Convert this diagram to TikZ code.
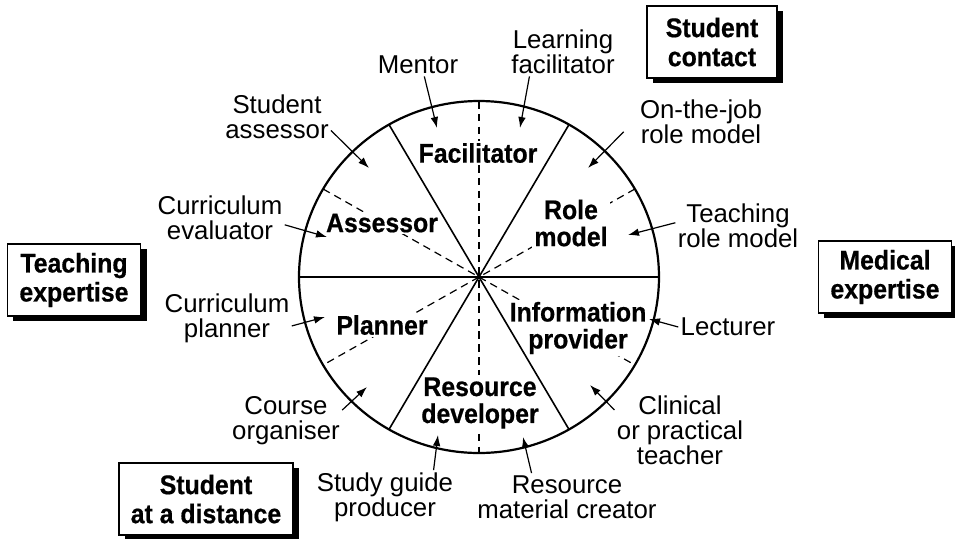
\documentclass[tikz,border=0pt]{standalone}
\usepackage{fontspec}
\setmainfont{Liberation Sans}
\newfontfamily\condfont[FakeStretch=0.92, FakeBold=0.6]{Liberation Sans Bold}
\usepackage{xcolor}
\colorlet{colorWheel}{black}
\colorlet{colorArrow}{black}
\usepackage{tikz}
\usetikzlibrary{arrows.meta, positioning, shadows}
\tikzset{role/.style={font=\fontsize{12.9}{12.5}\selectfont, align=center, inner sep=1pt},
sector/.style={font=\condfont\fontsize{13.5}{13.5}\selectfont, align=center, fill=white, inner sep=1pt},
corner/.style={draw, line width=0.8pt, fill=white, font=\condfont\fontsize{13.5}{14.5}\selectfont, align=center, inner xsep=6pt, minimum width=65pt, minimum height=36pt, drop shadow={shadow xshift=3pt, shadow yshift=-2.7pt, opacity=1, fill=black}},
spoke/.style={colorWheel, line width=0.8pt},
guide/.style={colorWheel, line width=0.6pt, dash pattern=on 3.8pt off 2.6pt},
pointer/.style={->, colorArrow, line width=0.6pt}}

\begin{document}
\begin{tikzpicture}[>={Latex[length=5.5pt,width=3.8pt]}, x=0.5pt, y=0.5pt]
\useasboundingbox (-479,-261) rectangle (476,277);
\coordinate (c) at (0,0);
\draw [guide] (90:180 and 176) -- (270:180 and 176);
\draw [guide] (30:180 and 176) -- (210:180 and 176);
\draw [guide] (150:180 and 176) -- (330:180 and 176);
\node [sector] (facil) at (-1,124) {Facilitator};
\node [sector] (roleModel) at (92,54) {Role\\model};
\node [sector] (assess) at (-97,54) {Assessor};
\node [sector] (plan) at (-97,-48) {Planner};
\node [sector] (info) at (99,-51) {Information\\provider};
\node [sector] (resDev) at (1,-126) {Resource\\developer};
\draw [colorWheel, line width=1.1pt] (c) ellipse [x radius=180, y radius=176];
\draw [spoke] (180:180 and 176) -- (0:180 and 176);
\draw [spoke] (60:180 and 176) -- (240:180 and 176);
\draw [spoke] (120:180 and 176) -- (300:180 and 176);
\node [role] (mentor) at (-61,212) {Mentor};
\node [role] (learnFac) at (84,225) {Learning\\facilitator};
\node [role] (stuAss) at (-202,160) {Student\\assessor};
\node [role] (jobModel) at (222,155) {On-the-job\\role model};
\node [role] (curEval) at (-259,59) {Curriculum\\evaluator};
\node [role] (teachModel) at (259,51) {Teaching\\role model};
\node [role] (curPlan) at (-252,-41) {Curriculum\\planner};
\node [role] (lecturer) at (249,-50) {Lecturer};
\node [role] (courseOrg) at (-193,-144) {Course\\organiser};
\node [role] (clinTeach) at (201,-153) {Clinical\\or practical\\teacher};
\node [role] (guideProd) at (-94,-220) {Study guide\\producer};
\node [role] (matCreator) at (88,-220) {Resource\\material creator};
\node [corner] (contact) at (233,235) {Student\\contact};
\node [corner] (medical) at (406,0) {Medical\\expertise};
\node [corner] (teaching) at (-405,-3) {Teaching\\expertise};
\node [corner] (distance) at (-273,-222) {Student\\at a distance};
\coordinate (tMentor) at (-42,149);
\coordinate (tLearnFac) at (41,149);
\coordinate (tStuAss) at (-110,109);
\coordinate (tJobModel) at (109,109);
\coordinate (tCurEval) at (-152,40);
\coordinate (tTeachModel) at (149,42);
\coordinate (tCurPlan) at (-154,-40);
\coordinate (tLecturer) at (170,-42);
\coordinate (tCourseOrg) at (-112,-110);
\coordinate (tClinTeach) at (111,-108);
\coordinate (tGuideProd) at (-41,-158);
\coordinate (tMatCreator) at (44,-160);
\draw [pointer] (mentor.-61) -- (tMentor);
\draw [pointer] (learnFac.-144) -- (tLearnFac);
\draw [pointer] (stuAss.-14) -- (tStuAss);
\draw [pointer, shorten <=10pt] (jobModel.176) -- (tJobModel);
\draw [pointer] (curEval.-6) -- (tCurEval);
\draw [pointer] (teachModel.177) -- (tTeachModel);
\draw [pointer] (curPlan.-7) -- (tCurPlan);
\draw [pointer] (lecturer.west) -- (tLecturer);
\draw [pointer] (courseOrg.11) -- (tCourseOrg);
\draw [pointer] (clinTeach.163) -- (tClinTeach);
\draw [pointer] (guideProd.29) -- (tGuideProd);
\draw [pointer] (matCreator.146) -- (tMatCreator);
\end{tikzpicture}
\end{document}
